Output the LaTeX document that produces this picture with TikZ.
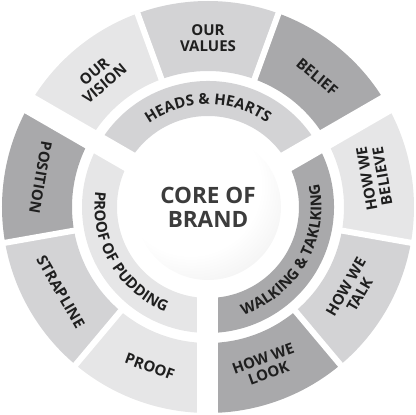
\documentclass[tikz,border=0pt]{standalone}
\usepackage{fontspec}
\setmainfont{Open Sans}
\usepackage{xcolor}
\usetikzlibrary{decorations.text}
\definecolor{sdark}{HTML}{A9A9AB}
\definecolor{smid}{HTML}{D3D3D5}
\definecolor{slight}{HTML}{E6E6E7}
\definecolor{stext}{HTML}{1F1F1F}
\definecolor{ctext}{HTML}{3C3C3C}
\definecolor{cdisc}{HTML}{DEDEDE}
\pgfdeclareradialshading{corefade}{\pgfpoint{-8bp}{10bp}}{color(0bp)=(white); color(24bp)=(white); color(54bp)=(cdisc); color(100bp)=(cdisc)}
\newcommand{\ringfont}{\fontsize{15}{16}\selectfont\bfseries}
\newcommand{\corefont}{\fontsize{22.5}{24}\selectfont\bfseries}
\newcommand{\ringsector}[5]{\fill[#1] (#2:#4) arc[start angle=#2, end angle=#3, radius=#4] -- (#3:#5) arc[start angle=#3, end angle=#2, radius=#5] -- cycle;}
\tikzstyle{seglabel}=[text=stext, font=\ringfont, align=center, inner sep=0pt]
\tikzstyle{gapwide}=[draw=white, line width=21pt]
\tikzstyle{gapthin}=[draw=white, line width=6pt]
\tikzstyle{core}=[circle, minimum size=146pt, inner sep=0pt, shading=corefade, text=ctext, font=\corefont, align=center]
\tikzstyle{arclabel}=[decorate, decoration={text along path, text align=center, text color=stext}]

\begin{document}
\begin{tikzpicture}[x=1pt, y=1pt]

    \useasboundingbox (-208,-208) rectangle (208,207);
    \coordinate (hub) at (0,0);

    % outer ring
    \foreach \a/\c in {70/smid, 30/sdark, -10/slight, -50/smid, -90/sdark, -130/slight, -170/smid, 150/sdark, 110/slight}{
            \ringsector{\c}{\a}{\a+40}{136}{206}
        }
    % inner ring
    \ringsector{smid}{30}{150}{91}{126}
    \ringsector{sdark}{-90}{30}{91}{126}
    \ringsector{slight}{150}{270}{91}{126}

    % gaps
    \foreach \a in {30,150,270}{
            \draw[gapwide] (hub) -- (\a:214);
        }
    \foreach \a in {70,110,190,230,310,350}{
            \draw[gapthin] (\a:131) -- (\a:214);
        }

    \node[core] (brand) at (hub) {CORE OF\\BRAND};

    % outer labels
    \node[seglabel, rotate=0]   (values)  at (90:169)  {OUR\\VALUES};
    \node[seglabel, rotate=-40] (belief)  at (50:170)  {BELIEF};
    \node[seglabel, rotate=100] (believe) at (10:169)  {HOW WE\\BELIEVE};
    \node[seglabel, rotate=60]  (talk)    at (-30:167) {HOW WE\\TALK};
    \node[seglabel, rotate=20]  (look)    at (-70:169) {HOW WE\\LOOK};
    \node[seglabel, rotate=-20] (proof)   at (250:170) {PROOF};
    \node[seglabel, rotate=-60] (strap)   at (210:170) {STRAPLINE};
    \node[seglabel, rotate=-100](position)at (170:170) {POSITION};
    \node[seglabel, rotate=40]  (vision)  at (130:169) {OUR\\VISION};

    % inner labels
    \path[arclabel, decoration={text={|\ringfont|HEADS {\&} HEARTS}}] (150:102.5) arc[start angle=150, end angle=30, radius=102.5];
    \path[arclabel, decoration={text={|\ringfont|WALKING {\&} TAKLKING}}] (-90:113.5) arc[start angle=-90, end angle=30, radius=113.5];
    \path[arclabel, decoration={text={|\ringfont|PROOF OF PUDDING}}] (150:113.5) arc[start angle=150, end angle=270, radius=113.5];

\end{tikzpicture}
\end{document}
